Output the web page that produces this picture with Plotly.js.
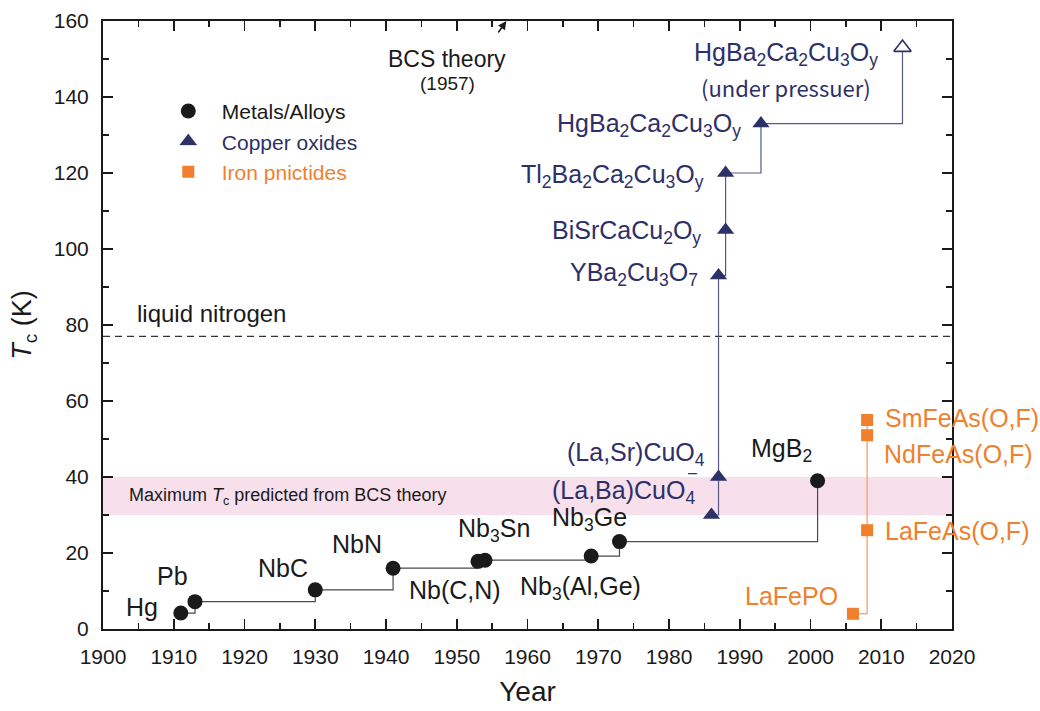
<!DOCTYPE html>
<html>
<head>
<meta charset="utf-8">
<script src="https://cdn.plot.ly/plotly-3.0.1.min.js"></script>
<style>
  html, body { margin: 0; padding: 0; background: #fff; }
  #chart { width: 1040px; height: 711px; }
</style>
</head>
<body>
<div id="chart"></div>
<script>
// ---- Superconductor discoveries: year and critical temperature (K) ----
const metalYears = [1911, 1913, 1930, 1941, 1953, 1954, 1969, 1973, 2001];
const metalTc    = [4.2, 7.2, 10.3, 16, 17.8, 18.1, 19.2, 23, 39];
const metalNames = ['Hg', 'Pb', 'NbC', 'NbN', 'Nb(C,N)', 'Nb<sub>3</sub>Sn',
                    'Nb<sub>3</sub>(Al,Ge)', 'Nb<sub>3</sub>Ge', 'MgB<sub>2</sub>'];

const cuprateYears = [1986, 1987, 1987, 1988, 1988, 1993, 2013];
const cuprateTc    = [30, 40, 93, 105, 120, 133, 153];
const cuprateNames = ['(La,Ba)CuO<sub>4</sub>', '(La,Sr)CuO<sub>4</sub>',
                      'YBa<sub>2</sub>Cu<sub>3</sub>O<sub>7</sub>',
                      'BiSrCaCu<sub>2</sub>O<sub>y</sub>',
                      'Tl<sub>2</sub>Ba<sub>2</sub>Ca<sub>2</sub>Cu<sub>3</sub>O<sub>y</sub>',
                      'HgBa<sub>2</sub>Ca<sub>2</sub>Cu<sub>3</sub>O<sub>y</sub>',
                      'HgBa<sub>2</sub>Ca<sub>2</sub>Cu<sub>3</sub>O<sub>y</sub>'];
const underPressureNote = '(under pressuer)';

const pnictideYears = [2006, 2008, 2008, 2008];
const pnictideTc    = [4, 26, 51, 55];
const pnictideNames = ['LaFePO', 'LaFeAs(O,F)', 'NdFeAs(O,F)', 'SmFeAs(O,F)'];

const liquidNitrogenK = 77;
const bcsBand = [30, 40];
const bcsYear = 1957;

const xTickVals = [1900, 1910, 1920, 1930, 1940, 1950, 1960, 1970, 1980, 1990, 2000, 2010, 2020];
const yTickVals = [0, 20, 40, 60, 80, 100, 120, 140, 160];

// ---- styling ----
const BLACK = '#1a1a1a';
const NAVY = '#2e3068';
const NAVY_LINE = '#56588a';
const ORANGE = '#f07f2e';
const ORANGE_LINE = '#f7ac7d';
const PINK = '#f7dfeb';
const FONT = 'Liberation Sans, Arial, sans-serif';
const LABEL_SIZE = 25;

// label placement relative to each marker: [xshift, yshift, xanchor]
const metalLabelPos = [
  [-21, 6, 'right'], [-22, 26, 'center'], [-32, 22, 'center'], [-36, 24, 'center'],
  [-23, -29, 'center'], [9, 30, 'center'], [-11, -32, 'center'], [-30, 23, 'center'],
  [-36, 31, 'center']
];
const cuprateLabelPos = [
  [-14, 23, 'right'], [-12, 23, 'right'], [-19, 2, 'right'], [-23, -2, 'right'],
  [-20, -3, 'right'], [-18, -1, 'right'], [-116, -6, 'center']
];
const pnictideLabelPos = [
  [-13, 18, 'right'], [16, -1, 'left'], [15, -19, 'left'], [16, 2, 'left']
];

const traces = [
  // step connectors
  { x: metalYears, y: metalTc, mode: 'lines', line: { shape: 'hv', color: '#4a4a4a', width: 1.2 },
    showlegend: false, hoverinfo: 'skip' },
  { x: cuprateYears, y: cuprateTc, mode: 'lines', line: { shape: 'hv', color: NAVY_LINE, width: 1.2 },
    showlegend: false, hoverinfo: 'skip' },
  { x: pnictideYears, y: pnictideTc, mode: 'lines', line: { shape: 'hv', color: ORANGE_LINE, width: 1.5 },
    showlegend: false, hoverinfo: 'skip' },
  // markers
  { x: metalYears, y: metalTc, mode: 'markers', name: '<span style="color:#1a1a1a">Metals/Alloys</span>',
    marker: { symbol: 'circle', size: 15, color: BLACK } },
  { x: cuprateYears, y: cuprateTc, mode: 'markers', name: '<span style="color:#2e3068">Copper oxides</span>',
    marker: { symbol: 'triangle-up', size: 15,
              color: cuprateYears.map((_, i) => i === cuprateYears.length - 1 ? '#ffffff' : NAVY),
              line: { color: NAVY, width: cuprateYears.map((_, i) => i === cuprateYears.length - 1 ? 1.6 : 0) } } },
  { x: pnictideYears, y: pnictideTc, mode: 'markers', name: '<span style="color:#f07f2e">Iron pnictides</span>',
    marker: { symbol: 'square', size: 12, color: ORANGE } }
];

const annotations = [];
function addLabels(xs, ys, names, pos, color) {
  names.forEach((t, i) => {
    annotations.push({
      x: xs[i], y: ys[i], xref: 'x', yref: 'y', text: t, showarrow: false,
      xanchor: pos[i][2], yanchor: 'middle', xshift: pos[i][0], yshift: pos[i][1],
      font: { family: FONT, size: LABEL_SIZE, color: color }
    });
  });
}
addLabels(metalYears, metalTc, metalNames, metalLabelPos, BLACK);
addLabels(cuprateYears, cuprateTc, cuprateNames, cuprateLabelPos, NAVY);
addLabels(pnictideYears, pnictideTc, pnictideNames, pnictideLabelPos, ORANGE);

const last = cuprateYears.length - 1;
annotations.push({
  x: cuprateYears[last], y: cuprateTc[last], xref: 'x', yref: 'y', text: underPressureNote,
  showarrow: false, xanchor: 'center', yanchor: 'middle', xshift: -116, yshift: -39,
  font: { family: 'Noto Sans CJK JP, sans-serif', size: 22, color: NAVY }
});
// small dash above the (La,Ba)CuO4 subscript
annotations.push({
  x: cuprateYears[0], y: cuprateTc[0], xref: 'x', yref: 'y', text: '\u2013',
  showarrow: false, xanchor: 'center', yanchor: 'middle', xshift: -19, yshift: 43,
  font: { family: FONT, size: 16, color: NAVY }
});

// BCS theory marker on the top axis
annotations.push({
  x: bcsYear, y: 160, xref: 'x', yref: 'y', text: '', showarrow: true,
  ax: -9, ay: 13, arrowhead: 2, arrowsize: 1.1, arrowwidth: 1.5, arrowcolor: BLACK, standoff: 0
});
annotations.push({
  x: bcsYear, y: 160, xref: 'x', yref: 'y', text: 'BCS theory', showarrow: false,
  xanchor: 'center', yanchor: 'middle', xshift: -59, yshift: -38,
  font: { family: FONT, size: 23, color: BLACK }
});
annotations.push({
  x: bcsYear, y: 160, xref: 'x', yref: 'y', text: '(' + bcsYear + ')', showarrow: false,
  xanchor: 'center', yanchor: 'middle', xshift: -59, yshift: -62,
  font: { family: FONT, size: 19, color: BLACK }
});

// reference lines' captions
annotations.push({
  x: 0, xref: 'paper', y: liquidNitrogenK, yref: 'y', text: 'liquid nitrogen', showarrow: false,
  xanchor: 'left', yanchor: 'middle', xshift: 32, yshift: 23,
  font: { family: FONT, size: 24, color: BLACK }
});
annotations.push({
  x: 0, xref: 'paper', y: (bcsBand[0] + bcsBand[1]) / 2, yref: 'y',
  text: 'Maximum <i>T</i><sub>c</sub> predicted from BCS theory', showarrow: false,
  xanchor: 'left', yanchor: 'middle', xshift: 24, yshift: 0,
  font: { family: FONT, size: 18, color: BLACK }
});

const shapes = [
  { type: 'rect', xref: 'paper', x0: 0, x1: 1, yref: 'y', y0: bcsBand[0], y1: bcsBand[1],
    fillcolor: PINK, line: { width: 0 }, layer: 'below' },
  { type: 'line', xref: 'paper', x0: 0, x1: 1, yref: 'y', y0: liquidNitrogenK, y1: liquidNitrogenK,
    line: { color: '#333', width: 1.2, dash: '7px,5px' }, layer: 'below' }
];

const axisCommon = {
  showgrid: false, zeroline: false, showline: true, linecolor: BLACK, linewidth: 2,
  mirror: 'ticks', ticks: 'inside', ticklen: 10, tickwidth: 1.6, tickcolor: BLACK,
  tickfont: { family: FONT, size: 21, color: BLACK },
  minor: { ticks: 'inside', ticklen: 6, tickwidth: 1.4, tickcolor: BLACK }
};

const layout = {
  width: 1040, height: 711,
  margin: { l: 103, r: 88, t: 21, b: 82 },
  paper_bgcolor: '#ffffff', plot_bgcolor: '#ffffff',
  font: { family: FONT, color: BLACK },
  xaxis: Object.assign({}, axisCommon, {
    range: [1900, 2020], tickvals: xTickVals, ticktext: xTickVals.map(String),
    minor: Object.assign({}, axisCommon.minor, { dtick: 5, tick0: 1900 }),
    ticklabelstandoff: 8,
    title: { text: 'Year', font: { family: FONT, size: 28, color: BLACK }, standoff: 14 }
  }),
  yaxis: Object.assign({}, axisCommon, {
    range: [0, 160], tickvals: yTickVals, ticktext: yTickVals.map(String),
    minor: Object.assign({}, axisCommon.minor, { dtick: 10, tick0: 0 }),
    ticklabelstandoff: 8,
    title: { text: '<i>T</i><sub>c</sub> (K)', font: { family: FONT, size: 27, color: BLACK }, standoff: 14 }
  }),
  showlegend: true,
  legend: {
    x: 0.061, xanchor: 'left', y: 0.885, yanchor: 'top', bgcolor: 'rgba(0,0,0,0)',
    font: { family: FONT, size: 21, color: BLACK }, itemwidth: 57
  },
  shapes: shapes,
  annotations: annotations
};

Plotly.newPlot('chart', traces, layout, { staticPlot: true, displayModeBar: false });
</script>
</body>
</html>
